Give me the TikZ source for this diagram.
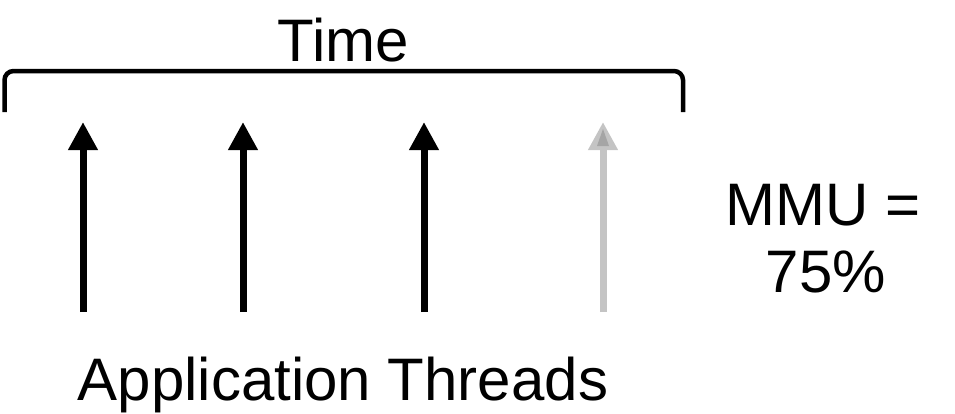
\documentclass[tikz,border=0pt]{standalone}
\usepackage{fontspec}
\setmainfont{Liberation Sans}
\usetikzlibrary{arrows.meta}
\begin{document}
\begin{tikzpicture}[x=1pt,y=-1pt,
  lbl/.style={inner sep=0pt,font=\fontsize{60}{69}\selectfont},
  thread/.style={line width=7pt,-{Triangle[width=28pt,length=28pt]}},
  bracketline/.style={line width=4.5pt,rounded corners=9pt}]
\useasboundingbox (0,0) rectangle (955,413);
% bracket
\coordinate (bl) at (4.5,112);
\coordinate (br) at (683,112);
\draw[bracketline] (bl) -- (4.5,71) -- (683,71) -- (br);
\node[lbl,anchor=base] (time) at (343.5,61) {Time};
% threads
\foreach \i/\x in {1/83,2/243,3/424}{
  \coordinate (b\i) at (\x,312);
  \coordinate (t\i) at (\x,122);
  \draw[thread] (b\i) -- (t\i);
}
\coordinate (b4) at (603,312);
\coordinate (t4) at (603,122);
\draw[thread,color={rgb,255:red,196;green,196;blue,196}] (b4) -- (t4);
\fill[color={rgb,255:red,165;green,165;blue,165}] (603,129) -- (609,146) -- (597,146) -- cycle;
\node[lbl,anchor=base] (app) at (343,400) {Application Threads};
\node[lbl,anchor=base] (mmu1) at (823,225) {MMU =};
\node[lbl,anchor=base] (mmu2) at (826,292) {75\%};
\end{tikzpicture}
\end{document}
